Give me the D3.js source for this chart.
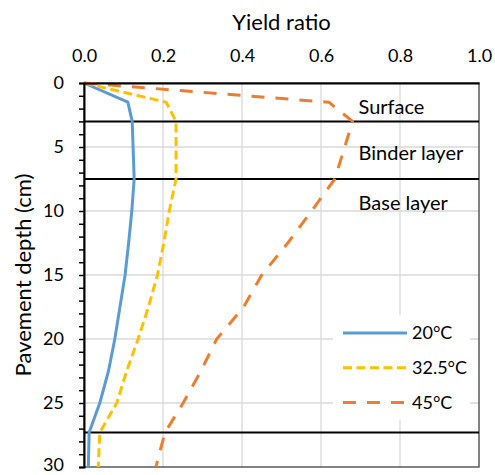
<!DOCTYPE html>
<html>
<head>
<meta charset="utf-8">
<script src="https://cdn.jsdelivr.net/npm/d3@7"></script>
<style>
  body { margin: 0; background: #fff; }
  text { font-family: Lato, "Liberation Sans", sans-serif; fill: #000; }
</style>
</head>
<body>
<div id="chart-container"></div>
<script>
const depths = [0, 1.5, 3, 7.5, 10, 12.5, 15, 17.5, 20, 22.5, 25, 27.3, 30];
const ratio20 = [0, 0.111, 0.122, 0.127, 0.121, 0.113, 0.104, 0.091, 0.078, 0.062, 0.04, 0.013, 0.011];
const ratio325 = [0, 0.208, 0.233, 0.233, 0.216, 0.202, 0.186, 0.163, 0.137, 0.108, 0.083, 0.04, 0.036];
const ratio45 = [0, 0.62, 0.68, 0.635, 0.576, 0.516, 0.45, 0.404, 0.336, 0.296, 0.251, 0.205, 0.182];
const seriesNames = ["20°C", "32.5°C", "45°C"];
const xTicks = [0, 0.2, 0.4, 0.6, 0.8, 1.0];
const yTicks = [0, 5, 10, 15, 20, 25, 30];
const layerDepths = [3, 7.5, 27.3];
const layerNames = ["Surface", "Binder layer", "Base layer"];
const layerLabelDepths = [1.9, 5.5, 9.4];

function renderChart() {
    const width = 495;
    const height = 475;
    const margin = { top: 83, right: 16, bottom: 8, left: 84 };

    const svg = d3.select("#chart-container").append("svg")
        .attr("width", width)
        .attr("height", height);

    const x = d3.scaleLinear().domain([0, 1]).range([margin.left, width - margin.right]);
    const y = d3.scaleLinear().domain([0, 30]).range([margin.top, height - margin.bottom]);

    // gridlines
    svg.append("g")
        .selectAll("line")
        .data(xTicks.slice(1, -1))
        .enter().append("line")
        .attr("x1", d => x(d)).attr("x2", d => x(d))
        .attr("y1", y(0)).attr("y2", y(30))
        .attr("stroke", "#d9d9d9").attr("stroke-width", 1.3);

    svg.append("g")
        .selectAll("line")
        .data(yTicks.slice(1, -1))
        .enter().append("line")
        .attr("x1", x(0)).attr("x2", x(1))
        .attr("y1", d => y(d)).attr("y2", d => y(d))
        .attr("stroke", "#d9d9d9").attr("stroke-width", 1.3);

    // plot border
    svg.append("rect")
        .attr("x", x(0)).attr("y", y(0))
        .attr("width", x(1) - x(0)).attr("height", y(30) - y(0))
        .attr("fill", "none")
        .attr("stroke", "#404040")
        .attr("stroke-width", 1.3);

    // layer boundaries
    svg.append("g")
        .selectAll("line")
        .data(layerDepths)
        .enter().append("line")
        .attr("x1", x(0)).attr("x2", x(1))
        .attr("y1", d => y(d)).attr("y2", d => y(d))
        .attr("stroke", "#000").attr("stroke-width", 2);

    svg.append("g")
        .selectAll("text")
        .data(layerNames)
        .enter().append("text")
        .attr("x", x(0.695))
        .attr("y", (d, i) => y(layerLabelDepths[i]))
        .attr("dy", "0.35em")
        .style("font-size", "20px")
        .text(d => d);

    // legend box (drawn before lines so series stay on top)
    const legendX = 333, legendY = 315;
    svg.append("rect")
        .attr("x", legendX).attr("y", legendY)
        .attr("width", 137).attr("height", 105)
        .attr("fill", "#fff");

    const series = [
        { name: seriesNames[0], values: ratio20, color: "#5b9bd5", dash: null },
        { name: seriesNames[1], values: ratio325, color: "#ffc000", dash: "9,4.5" },
        { name: seriesNames[2], values: ratio45, color: "#ed7d31", dash: "13,11" }
    ];

    const line = d3.line()
        .x(d => x(d[0]))
        .y(d => y(d[1]));

    series.forEach(s => {
        svg.append("path")
            .datum(s.values.map((v, i) => [v, depths[i]]))
            .attr("fill", "none")
            .attr("stroke", s.color)
            .attr("stroke-width", 3)
            .attr("stroke-linejoin", "round")
            .attr("stroke-dasharray", s.dash)
            .attr("d", line);
    });

    // axes
    const xAxis = svg.append("g")
        .attr("transform", `translate(0,${y(0)})`)
        .call(d3.axisTop(x).tickValues(xTicks).tickFormat(d3.format(".1f")).tickSize(0).tickPadding(21));
    xAxis.select(".domain").attr("stroke", "#000").attr("stroke-width", 2);
    xAxis.selectAll("text").style("font-size", "18px").style("font-family", "Lato, sans-serif");

    const yAxis = svg.append("g")
        .attr("transform", `translate(${x(0)},0)`)
        .call(d3.axisLeft(y).tickValues(d3.range(0, 31, 1)).tickSize(5).tickPadding(15)
            .tickFormat(d => d % 5 === 0 ? d : ""));
    yAxis.select(".domain").attr("stroke", "#000").attr("stroke-width", 2);
    yAxis.selectAll(".tick line").attr("stroke", "#000").attr("stroke-width", 1.5);
    yAxis.selectAll("text").style("font-size", "18px").style("font-family", "Lato, sans-serif");
    // keep the last label inside the window
    yAxis.selectAll("text").filter(d => d === 30).attr("dy", "0.2em");

    // axis titles
    svg.append("text")
        .attr("x", (x(0) + x(1)) / 2)
        .attr("y", 22)
        .attr("text-anchor", "middle")
        .attr("dy", "0.35em")
        .style("font-size", "22px")
        .text("Yield ratio");

    svg.append("text")
        .attr("transform", `translate(23,${(y(0) + y(30)) / 2}) rotate(-90)`)
        .attr("text-anchor", "middle")
        .attr("dy", "0.35em")
        .style("font-size", "22px")
        .text("Pavement depth (cm)");

    // legend entries
    const legend = svg.append("g");
    series.forEach((s, i) => {
        const ly = 333 + i * 34.7;
        legend.append("line")
            .attr("x1", 343).attr("x2", 407)
            .attr("y1", ly).attr("y2", ly)
            .attr("stroke", s.color)
            .attr("stroke-width", 3)
            .attr("stroke-dasharray", s.dash);
        legend.append("text")
            .attr("x", 412).attr("y", ly)
            .attr("dy", "0.35em")
            .style("font-size", "18px")
            .text(s.name);
    });
}

window.onload = () => renderChart();
</script>
</body>
</html>
